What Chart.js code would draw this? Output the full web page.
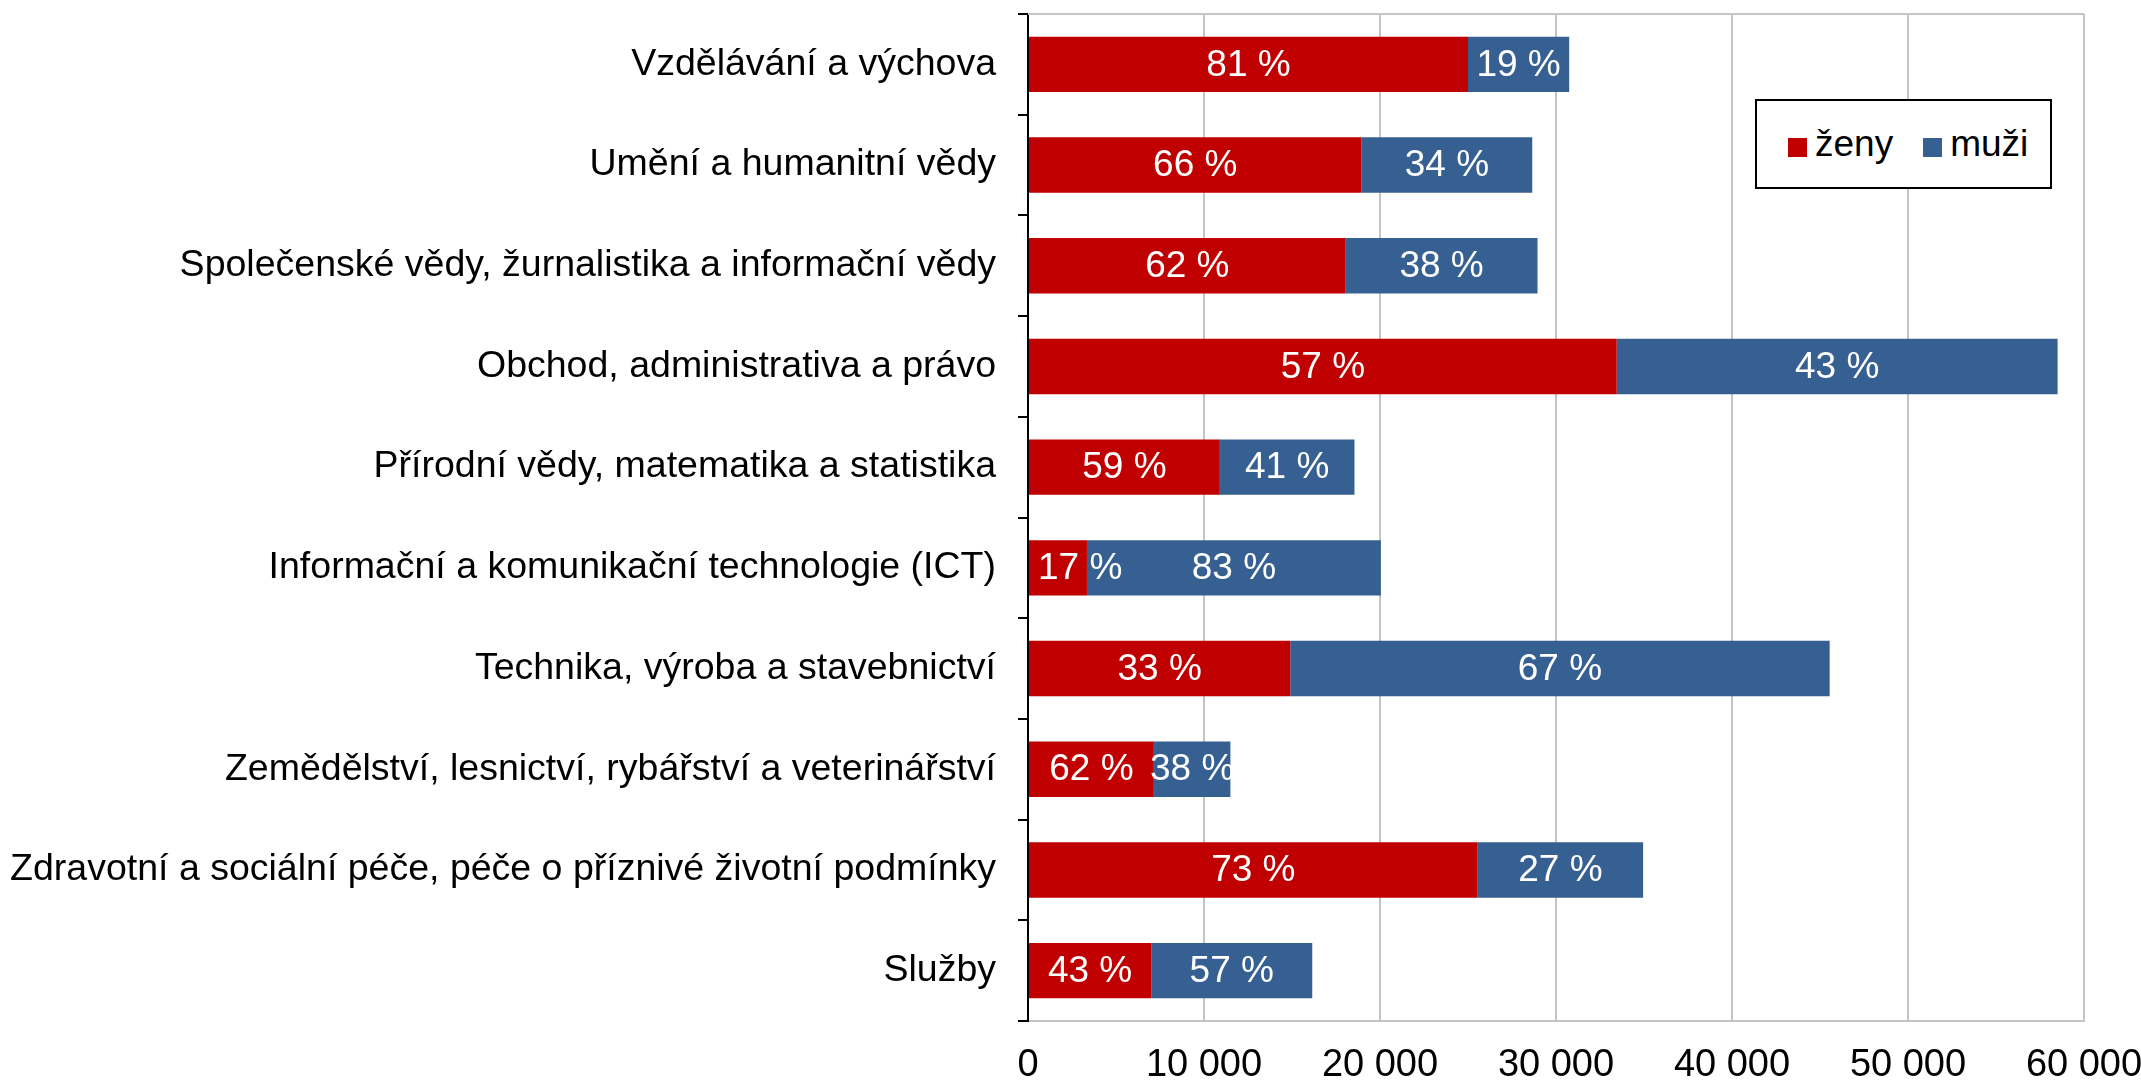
<!DOCTYPE html>
<html lang="cs">
<head>
<meta charset="utf-8">
<title>Studenti podle oborů</title>
<script src="https://cdn.jsdelivr.net/npm/chart.js@4.4.1/dist/chart.umd.min.js"></script>
<style>
  body { margin: 0; background: #fff; }
  #wrap { position: relative; width: 2141px; height: 1081px; }
  #legend {
    position: absolute; left: 1755px; top: 99px; width: 297px; height: 90px;
    border: 2px solid #000; background: #fff; box-sizing: border-box;
    font-family: "Liberation Sans", Arial, sans-serif; font-size: 37px; color: #000;
    display: flex; align-items: center; padding-left: 31px;
  }
  #legend span.item { display: flex; align-items: center; margin-right: 30px; }
  #legend span.box { display: inline-block; width: 19px; height: 19px; margin-right: 8px; margin-top: 6px; }
</style>
</head>
<body>
<div id="wrap">
  <canvas id="chart" width="2141" height="1081"></canvas>
  <div id="legend"></div>
</div>
<script>
// categories (top to bottom)
const obory = [
    "Vzdělávání a výchova",
    "Umění a humanitní vědy",
    "Společenské vědy, žurnalistika a informační vědy",
    "Obchod, administrativa a právo",
    "Přírodní vědy, matematika a statistika",
    "Informační a komunikační technologie (ICT)",
    "Technika, výroba a stavebnictví",
    "Zemědělství, lesnictví, rybářství a veterinářství",
    "Zdravotní a sociální péče, péče o příznivé životní podmínky",
    "Služby"
];

// values
const zeny = [25000, 18950, 18050, 33450, 10900, 3350, 14900, 7150, 25550, 7000];
const muzi = [5750, 9700, 10900, 25050, 7650, 16700, 30650, 4350, 9400, 9150];

const xTicks = [0, 10000, 20000, 30000, 40000, 50000, 60000];

const RED = "#c00000";
const BLUE = "#376092";
const FONT = '"Liberation Sans", Arial, sans-serif';

function formatThousands(v) {
    return String(v).replace(/\B(?=(\d{3})+(?!\d))/g, " ");
}

// percentage labels inside each bar segment
const pctLabels = {
    id: "pctLabels",
    afterDatasetsDraw(chart) {
        let ctx = chart.ctx;
        let zeroX = chart.scales.x.getPixelForValue(0);
        ctx.save();
        ctx.font = "37px " + FONT;
        ctx.fillStyle = "#fff";
        ctx.textAlign = "center";
        ctx.textBaseline = "middle";
        chart.data.datasets.forEach(function (ds, di) {
            let meta = chart.getDatasetMeta(di);
            meta.data.forEach(function (bar, i) {
                let total = zeny[i] + muzi[i];
                let txt = Math.round(ds.data[i] / total * 100) + " %";
                let tw = ctx.measureText(txt).width;
                let x = (bar.x + bar.base) / 2;
                // keep the label from running past the axis
                let minX = zeroX + tw / 2 + 10;
                if (x < minX) x = minX;
                ctx.fillText(txt, x, bar.y + 1);
            });
        });
        ctx.restore();
    }
};

// grey line along the top of the plot
const topBorder = {
    id: "topBorder",
    beforeDatasetsDraw(chart) {
        let a = chart.chartArea;
        let ctx = chart.ctx;
        ctx.save();
        ctx.strokeStyle = "#c4c4c4";
        ctx.lineWidth = 2;
        ctx.beginPath();
        ctx.moveTo(a.left, a.top);
        ctx.lineTo(a.right, a.top);
        ctx.stroke();
        ctx.restore();
    }
};

let chart = new Chart(document.getElementById("chart"), {
    type: "bar",
    data: {
        labels: obory,
        datasets: [
            { label: "ženy", data: zeny, backgroundColor: RED, borderWidth: 0 },
            { label: "muži", data: muzi, backgroundColor: BLUE, borderWidth: 0 }
        ]
    },
    options: {
        indexAxis: "y",
        responsive: false,
        animation: false,
        devicePixelRatio: 1,
        layout: { padding: { top: 14, right: 57, bottom: 0, left: 0 } },
        datasets: { bar: { categoryPercentage: 1, barPercentage: 0.55 } },
        plugins: {
            legend: { display: false },
            tooltip: { enabled: false }
        },
        scales: {
            x: {
                stacked: true,
                min: 0,
                max: 60000,
                afterBuildTicks(scale) {
                    scale.ticks = xTicks.map(v => ({ value: v }));
                },
                afterFit(scale) {
                    scale.height = 60;
                    scale.paddingLeft = 0;
                    scale.paddingRight = 0;
                },
                grid: { color: "#c4c4c4", lineWidth: 2, drawTicks: false },
                border: { color: "#c4c4c4", width: 2 },
                ticks: {
                    padding: 22,
                    color: "#000",
                    font: { family: FONT, size: 38 },
                    maxRotation: 0,
                    callback: v => formatThousands(v)
                }
            },
            y: {
                stacked: true,
                afterFit(scale) {
                    scale.width = 1028;
                    scale.paddingTop = 0;
                    scale.paddingBottom = 0;
                },
                grid: { drawOnChartArea: false, color: "#000", lineWidth: 2, tickLength: 10 },
                border: { color: "#000", width: 2 },
                ticks: {
                    padding: 22,
                    color: "#000",
                    font: { family: FONT, size: 37.5 }
                }
            }
        }
    },
    plugins: [topBorder, pctLabels]
});

// legend built from the datasets
let legend = document.getElementById("legend");
chart.data.datasets.forEach(function (ds) {
    let item = document.createElement("span");
    item.className = "item";
    let box = document.createElement("span");
    box.className = "box";
    box.style.background = ds.backgroundColor;
    item.appendChild(box);
    item.appendChild(document.createTextNode(ds.label));
    legend.appendChild(item);
});
</script>
</body>
</html>
